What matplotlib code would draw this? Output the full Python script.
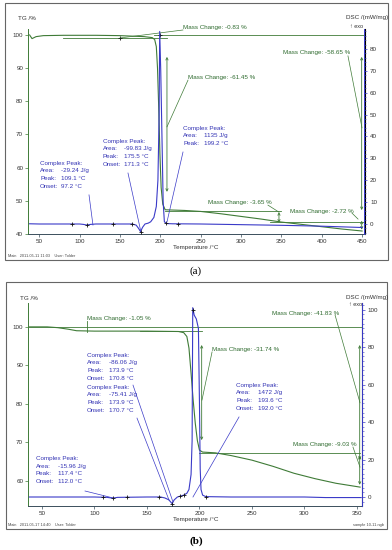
import numpy as np
import matplotlib
matplotlib.use("Agg")
import matplotlib.pyplot as plt
from matplotlib.patches import Rectangle
from matplotlib.ticker import MultipleLocator
from matplotlib.transforms import offset_copy

plt.rcParams['font.family'] = ['Liberation Sans', 'DejaVu Sans']
plt.rcParams['font.size'] = 4.5

GREEN = '#3f7b37'
BLUE = '#3a3ac8'
TXT_G = '#2f6b2f'
TXT_B = '#3232b4'
AXC = '#333333'

# ---------------- panel (a) ----------------
t_tg_a = [38, 41, 46, 55, 80, 120, 150, 180, 190, 193, 195, 196.5, 198, 199.5, 201,
          203, 206, 230, 250, 275, 300, 325, 350, 375, 400, 425, 450]
tg_a = [100.0, 98.9, 99.5, 99.8, 99.9, 99.9, 99.8, 99.5, 99.2, 98.6, 96.5, 90, 78, 64, 54,
        49, 47.3, 47.1, 46.8, 46.1, 45.3, 44.5, 43.6, 42.9, 42.2, 41.5, 40.9]
t_dsc_a = [38, 50, 80, 100, 105, 109.1, 113, 120, 150, 165, 170, 173, 175.5, 178, 181,
           185, 188, 192, 195, 197, 198.5, 199.2, 200.5, 202, 203.5, 205, 208, 215,
           250, 300, 350, 400, 450]
dsc_a = [0.1, 0, 0, 0, -0.2, -0.5, -0.2, 0, 0, 0, -0.5, -2, -3.5, -1.5, 0,
         0.4, 1, 3, 8, 20, 50, 88, 70, 40, 10, 1, 0.2, 0.1,
         0, -0.3, -0.6, -1.0, -1.6]
marks_a = [90, 109.1, 141, 165, 175.5, 207, 222]
peaks_a = [['-29.24 J/g', '109.1 °C', '97.2 °C'],
           ['-99.83 J/g', '175.5 °C', '171.3 °C'],
           ['1135 J/g', '199.2 °C']]
mass_a = ['-0.83 %', '-61.45 %', '-58.65 %', '-3.65 %', '-2.72 %']

# ---------------- panel (b) ----------------
t_tg_b = [38, 55, 65, 75, 83, 100, 150, 180, 185, 188, 190, 192, 194, 196, 198, 200,
          203, 215, 230, 250, 270, 290, 310, 330, 353]
tg_b = [100.0, 100.0, 99.8, 99.4, 99.0, 98.9, 98.9, 98.8, 98.5, 97.5, 94.5, 88, 81, 75,
        70.5, 68, 67.5, 67.3, 66.6, 65.4, 63.8, 62.0, 60.6, 59.4, 58.4]
t_dsc_b = [38, 60, 100, 112, 117.4, 122, 150, 163, 167, 170.8, 173.9, 176, 179, 182,
           185, 188, 190, 192, 193, 193.6, 195, 197, 199, 200, 200.7, 201.5, 203, 206,
           230, 300, 320, 354]
dsc_b = [0, 0, 0, -0.2, -0.6, -0.2, 0, 0, -0.5, -1.5, -3.5, -1.5, 0, 0.5,
         1, 2, 4, 12, 30, 101, 97, 95, 90, 50, 15, 4, 1, 0.2,
         0, 0, -0.3, -0.3]
marks_b = [108, 117.4, 131, 161, 173.9, 181, 185, 206]
peaks_b = [['-86.06 J/g', '173.9 °C', '170.8 °C'],
           ['-75.41 J/g', '173.9 °C', '170.7 °C'],
           ['-15.96 J/g', '117.4 °C', '112.0 °C'],
           ['1472 J/g', '193.6 °C', '192.0 °C']]
mass_b = ['-1.05 %', '-31.74 %', '-41.83 %', '-9.03 %']

W, H = 392, 550
fig = plt.figure(figsize=(W / 100, H / 100), dpi=100)


def fx(x):
    return x / W


def fy(y):
    return 1 - y / H


def setup(rect, xlim, tgl, dscl, xt, tgt, dsct, dsc_minor):
    ax = fig.add_axes(rect)
    ax2 = ax.twinx()
    ax.set_xlim(*xlim)
    ax.set_ylim(*tgl)
    ax2.set_ylim(*dscl)
    ax.set_xticks(xt)
    ax.set_yticks(tgt)
    ax2.set_yticks(dsct)
    ax2.yaxis.set_minor_locator(MultipleLocator(dsc_minor))
    for a in (ax, ax2):
        a.spines['top'].set_visible(False)
        a.patch.set_visible(False)
    ax.spines['left'].set_color(GREEN)
    ax.spines['bottom'].set_color('#3b4f5c')
    ax2.spines['right'].set_color(BLUE)
    ax2.spines['left'].set_visible(False)
    ax2.spines['bottom'].set_visible(False)
    for s in ('left', 'bottom'):
        ax.spines[s].set_linewidth(0.7)
    ax2.spines['right'].set_linewidth(0.7)
    ax.tick_params(axis='y', colors=GREEN, labelcolor=AXC, length=2, width=0.5,
                   labelsize=4.5, pad=1.5)
    ax.tick_params(axis='x', colors='#3b4f5c', labelcolor=AXC, length=2, width=0.5,
                   labelsize=4.5, pad=1.5)
    ax2.tick_params(axis='y', which='major', colors=BLUE, labelcolor=AXC, length=2.5,
                    width=0.5, labelsize=4.5, pad=1.5)
    ax2.tick_params(axis='y', which='minor', colors=BLUE, length=1.2, width=0.4)
    return ax, ax2


def peak_block(ax, x_lab, x_val, y_top, vals, step=7.8):
    names = ['Area:', 'Peak:', 'Onset:']
    ax.text(x_lab, y_top, 'Complex Peak:', color=TXT_B, va='top', ha='left')
    for i, v in enumerate(vals):
        tr = offset_copy(ax.transData, fig=fig, y=-(i + 1) * step, units='dots')
        ax.text(x_lab, y_top, names[i], transform=tr, color=TXT_B, va='top', ha='left')
        ax.text(x_val, y_top, v, transform=tr, color=TXT_B, va='top', ha='left')


def leader(ax, p, q, color):
    ax.plot([p[0], q[0]], [p[1], q[1]], color=color, lw=0.5, clip_on=False)


def darrow(ax, x, y1, y2):
    ax.annotate('', xy=(x, y1), xytext=(x, y2),
                arrowprops=dict(arrowstyle='<->', color=GREEN, lw=0.6,
                                shrinkA=0, shrinkB=0, mutation_scale=4))


def mass_text(ax, x, y, m):
    ax.text(x, y, 'Mass Change: ' + m, color=TXT_G, va='center', ha='left',
            fontsize=4.5, clip_on=False)


# frames
fig.patches.append(Rectangle((fx(5), fy(260)), 383 / W, 257 / H, transform=fig.transFigure,
                             fill=False, ec='#666666', lw=0.8))
fig.patches.append(Rectangle((fx(6), fy(529)), 381 / W, 247 / H, transform=fig.transFigure,
                             fill=False, ec='#666666', lw=0.8))

# ======== (a) ========
axA, axA2 = setup([fx(28), fy(234), 336.5 / W, 205 / H], (36, 453), (40, 101.8),
                  (-4.57, 89.1), range(50, 451, 50), range(40, 101, 10),
                  range(0, 81, 10), 2)

axA.plot(t_tg_a, tg_a, color=GREEN, lw=0.8)
axA2.plot(t_dsc_a, dsc_a, color=BLUE, lw=0.8)
axA2.plot(marks_a, np.interp(marks_a, t_dsc_a, dsc_a), ls='none', marker='+',
          ms=3, mew=0.6, color='#111111')

for x0, x1, y in [(79, 208, 99.1), (192, 452, 99.9), (206, 350, 46.9), (336, 452, 43.6)]:
    axA.plot([x0, x1], [y, y], color=GREEN, lw=0.6)
axA.plot([150, 199.5], [99.1, 99.9], ls='none', marker='+', ms=3, mew=0.6, color='#111111')

mass_text(axA, 228, 102.4, mass_a[0])
leader(axA, (150, 99.1), (228, 101.5), GREEN)
mass_text(axA, 234.3, 87.3, mass_a[1])
leader(axA, (234.3, 86.4), (208.2, 72.3), GREEN)
darrow(axA, 208.2, 93.4, 52.7)
mass_text(axA, 352, 94.6, mass_a[2])
leader(axA, (432.5, 93.7), (449.9, 72.0), GREEN)
darrow(axA, 449.5, 93.4, 47.2)
mass_text(axA, 259, 49.6, mass_a[3])
leader(axA, (333.4, 48.7), (347, 46.6), GREEN)
darrow(axA, 347, 46.6, 43.4)
mass_text(axA, 360.7, 46.9, mass_a[4])
leader(axA, (437.5, 46.3), (445, 44.5), GREEN)
darrow(axA, 449.5, 44.0, 41.3)

peak_block(axA2, 50.9, 77.0, 29.0, peaks_a[0])
leader(axA2, (111.6, 13.3), (116.5, -0.5), BLUE)
peak_block(axA2, 128.9, 155.0, 39.0, peaks_a[1])
leader(axA2, (159.9, 23.3), (175.4, -2.7), BLUE)
peak_block(axA2, 228.1, 254.0, 45.0, peaks_a[2])
leader(axA2, (228.1, 32.9), (208.2, 0.9), BLUE)

fig.text(fx(18), fy(19), 'TG /%', color=AXC, fontsize=4.5, va='center')
fig.text(fx(388), fy(18), 'DSC /(mW/mg)', color=AXC, fontsize=4.5, va='center', ha='right')
fig.text(fx(363), fy(26.5), '↑ exo', color=AXC, fontsize=4, va='center', ha='right')
fig.text(fx(196), fy(248), 'Temperature /°C', color=AXC, fontsize=4.5, va='center', ha='center')
fig.text(fx(8), fy(256), 'Main   2011-05-11 11:03    User: Tolder', color='#444444',
         fontsize=2.8, va='center')
fig.text(fx(196), fy(271), '(a)', fontsize=8, ha='center', va='center',
         family=['Liberation Serif', 'DejaVu Serif'])

# ======== (b) ========
axB, axB2 = setup([fx(28), fy(506), 334 / W, 203 / H], (36.7, 354.8), (53.5, 106.2),
                  (-4.8, 103.5), range(50, 351, 50), range(60, 101, 10),
                  range(0, 101, 20), 2.5)

axB.plot(t_tg_b, tg_b, color=GREEN, lw=0.8)
axB2.plot(t_dsc_b, dsc_b, color=BLUE, lw=0.8)
axB2.plot(marks_b, np.interp(marks_b, t_dsc_b, dsc_b), ls='none', marker='+',
          ms=3, mew=0.6, color='#111111')
axB2.plot([193.6], [99.5], ls='none', marker='+', ms=3, mew=0.6, color='#111111')

for x0, x1, y in [(38, 354, 100.0), (143.4, 202.4, 98.96), (200, 353, 67.3)]:
    axB.plot([x0, x1], [y, y], color=GREEN, lw=0.6)
axB.plot([92.9, 92.9], [98.6, 101.6], color=GREEN, lw=0.6)

mass_text(axB, 92.9, 102.3, mass_b[0])
mass_text(axB, 212, 94.0, mass_b[1])
leader(axB, (212, 93.5), (202.4, 81.0), GREEN)
darrow(axB, 202.1, 95.3, 70.6)
mass_text(axB, 269.1, 103.6, mass_b[2])
leader(axB, (329.1, 103.1), (352.9, 80.3), GREEN)
darrow(axB, 352.6, 95.3, 65.5)
mass_text(axB, 289.1, 69.4, mass_b[3])
leader(axB, (346.2, 68.8), (352.9, 63.6), GREEN)
darrow(axB, 352.6, 66.5, 59.0)

peak_block(axB2, 92.9, 113.5, 77.0, peaks_b[0])
leader(axB2, (136.7, 59.7), (174.8, -2.7), BLUE)
peak_block(axB2, 92.9, 113.5, 60.0, peaks_b[1])
leader(axB2, (140.5, 42.1), (171.0, -1.6), BLUE)
peak_block(axB2, 44.3, 64.9, 22.0, peaks_b[2])
leader(axB2, (91.0, 3.2), (117.7, -0.5), BLUE)
peak_block(axB2, 234.8, 255.4, 61.0, peaks_b[3])
leader(axB2, (237.7, 42.7), (193.8, 0.0), BLUE)

fig.text(fx(20), fy(298), 'TG /%', color=AXC, fontsize=4.5, va='center')
fig.text(fx(388), fy(297), 'DSC /(mW/mg)', color=AXC, fontsize=4.5, va='center', ha='right')
fig.text(fx(362), fy(305), '↑ exo', color=AXC, fontsize=4, va='center', ha='right')
fig.text(fx(196), fy(519), 'Temperature /°C', color=AXC, fontsize=4.5, va='center', ha='center')
fig.text(fx(8), fy(525), 'Main   2011-05-17 14:40    User: Tolder', color='#444444',
         fontsize=2.8, va='center')
fig.text(fx(384), fy(525), 'sample 10-11.ngb', color='#444444', fontsize=2.8,
         va='center', ha='right')
fig.text(fx(196), fy(541), '(b)', fontsize=8, ha='center', va='center', fontweight='bold',
         family=['Liberation Serif', 'DejaVu Serif'])

fig.savefig('out.png', dpi=100)
